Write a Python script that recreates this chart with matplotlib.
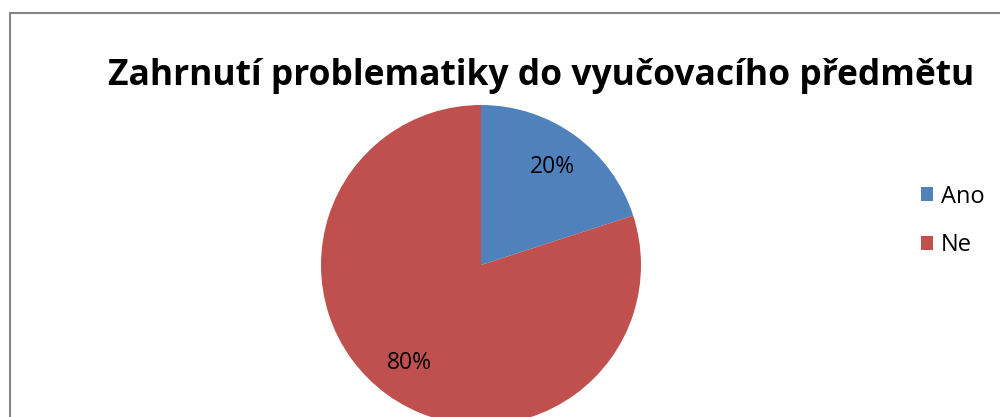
import matplotlib
matplotlib.use("Agg")
import matplotlib.pyplot as plt
from matplotlib.patches import Rectangle

title = "Zahrnutí problematiky do vyučovacího předmětu"
categories = ["Ano", "Ne"]
values = [20, 80]
colors = ["#4F81BD", "#C0504D"]

plt.rcParams['font.family'] = ['Open Sans', 'DejaVu Sans']

W, H = 1000, 417
fig = plt.figure(figsize=(W / 100, H / 100), dpi=100)
ax = fig.add_axes([0, 0, 1, 1])

wedges, texts, autotexts = ax.pie(
    values, colors=colors, startangle=90, counterclock=False,
    center=(481, H - 265), radius=160, autopct='%1.0f%%', pctdistance=0.76,
    textprops=dict(fontsize=16.5, color='black'), frame=True)
ax.set_xlim(0, W)
ax.set_ylim(0, H)
ax.set_aspect('equal')
ax.axis('off')

ax.text(541, H - 76, title, ha='center', va='center', fontsize=25.5,
        fontweight='bold', color='black')

ax.legend(wedges, categories, loc='center left',
          bbox_to_anchor=(921 / W, (H - 221) / H), frameon=False,
          fontsize=17, handlelength=0.5, handleheight=0.5,
          handletextpad=0.35, labelspacing=1.05, borderpad=0,
          borderaxespad=0)

fig.patches.append(Rectangle((10 / W, (H - 430) / H), 1.2, (430 - 13) / H,
                             transform=fig.transFigure, fill=False,
                             edgecolor='#868686', lw=1.5, clip_on=False))

fig.savefig("out.png", dpi=100)
